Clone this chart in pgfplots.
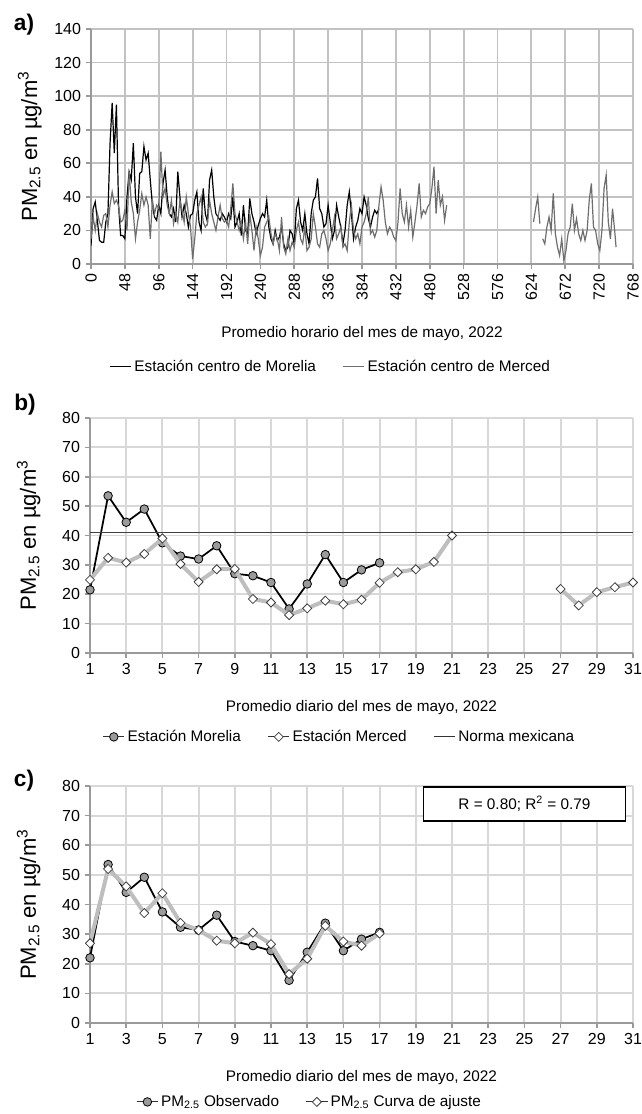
\documentclass[border=0pt]{standalone}
\usepackage{fontspec}
\setmainfont{Liberation Sans}
\usepackage{pgfplots}
\pgfplotsset{compat=1.18}
\definecolor{gridA}{HTML}{C2C2C2}
\definecolor{gridB}{HTML}{D8D8D8}
\definecolor{axisc}{HTML}{9A9A9A}
\definecolor{merced}{HTML}{6E6E6E}
\definecolor{circfill}{HTML}{9A9A9A}
\definecolor{lightln}{HTML}{BEBEBE}
\tikzset{plab/.style={font=\bfseries\fontsize{17}{19}\selectfont}}
\pgfplotsset{
  base/.style={
    scale only axis, axis lines=left,
    axis line style={-, draw=axisc, line width=1.3pt},
    grid=major, major grid style={draw=gridB, line width=1.4pt},
    tick style={draw=axisc, line width=1.2pt}, tick align=outside, major tick length=4pt,
    ticklabel style={font=\fontsize{12}{14}\selectfont},
    /pgf/number format/assume math mode=true,
    label style={font=\fontsize{11.5}{14}\selectfont},
    ylabel={PM\textsubscript{2.5} en µg/m\textsuperscript{3}},
    ylabel style={at={(axis description cs:-0.113,0.5)}, anchor=center, font=\fontsize{16.5}{18}\selectfont},
    legend style={draw=none, fill=none, font=\fontsize{11.5}{14}\selectfont,
      /tikz/every even column/.append style={column sep=18pt}},
    legend cell align=left,
    clip mode=individual,
  },
  daily/.style={
    xmin=1, xmax=31, xtick={1,3,...,31}, ymin=0, ymax=80, ytick={0,10,...,80},
    xlabel={Promedio diario del mes de mayo, 2022},
    legend columns=3,
    legend image code/.code={\draw[##1, line width=0.7pt, draw=black!80, mark repeat=2, mark phase=2] plot coordinates {(0pt,0pt) (8pt,0pt) (16pt,0pt)};},
  },
  circ/.style={black, line width=1.3pt, mark=*, mark size=3.2pt, mark options={fill=circfill, draw=black, line width=0.6pt}},
  diam/.style={lightln, line width=3pt, mark=square*, mark size=2.4pt, mark options={rotate=45, fill=white, draw=black!75, line width=0.6pt}},
}
\begin{document}
\begin{tikzpicture}
\path[use as bounding box] (0,0) rectangle (481.5pt,835.5pt);
% ---------------- panel a
\begin{axis}[base, at={(68.25pt,637.5pt)}, anchor=south west, width=406.5pt, height=176.25pt,
  xmin=0, xmax=768, xtick={0,48,...,768}, ymin=0, ymax=140, ytick={0,20,...,140},
  major grid style={draw=gridA, line width=1.4pt},
  xticklabel style={rotate=90, anchor=east},
  xlabel={Promedio horario del mes de mayo, 2022},
  xlabel style={at={(axis description cs:0.5,-0.295)}, anchor=center},
  legend style={at={(axis description cs:0.443,-0.438)}, anchor=center},
  legend columns=2,
  legend image code/.code={\draw[#1, line width=0.7pt] (0pt,0pt) -- (16pt,0pt);},
  unbounded coords=jump]
\addplot[black, line width=0.9pt] table[row sep=\\] {
h v\\
0 11\\ 3 33\\ 6 37\\ 9 26\\ 12 14\\ 15 13\\ 18 13\\ 21 25\\
24 30\\ 27 72\\ 30 96\\ 33 66\\ 36 95\\ 39 35\\ 42 17\\ 45 17\\
48 15\\ 51 40\\ 54 55\\ 57 50\\ 60 72\\ 63 40\\ 66 30\\ 69 54\\
72 55\\ 75 70\\ 78 62\\ 81 66\\ 84 50\\ 87 35\\ 90 28\\ 93 26\\
96 35\\ 99 30\\ 102 48\\ 105 56\\ 108 40\\ 111 30\\ 114 28\\ 117 33\\
120 25\\ 123 55\\ 126 40\\ 129 28\\ 132 35\\ 135 30\\ 138 22\\ 141 29\\
144 30\\ 147 38\\ 150 43\\ 153 25\\ 156 20\\ 159 45\\ 162 30\\ 165 25\\
168 50\\ 171 56\\ 174 40\\ 177 30\\ 180 28\\ 183 26\\ 186 30\\ 189 28\\
192 25\\ 195 30\\ 198 27\\ 201 40\\ 204 22\\ 207 25\\ 210 30\\ 213 17\\
216 35\\ 219 20\\ 222 18\\ 225 39\\ 228 30\\ 231 25\\ 234 18\\ 237 23\\
240 27\\ 243 30\\ 246 28\\ 249 38\\ 252 22\\ 255 15\\ 258 12\\ 261 20\\
264 14\\ 267 16\\ 270 22\\ 273 12\\ 276 8\\ 279 10\\ 282 20\\ 285 18\\
288 12\\ 291 33\\ 294 38\\ 297 25\\ 300 20\\ 303 30\\ 306 18\\ 309 12\\
312 30\\ 315 38\\ 318 40\\ 321 51\\ 324 33\\ 327 30\\ 330 22\\ 333 24\\
336 35\\ 339 25\\ 342 15\\ 345 20\\ 348 35\\ 351 28\\ 354 22\\ 357 12\\
360 20\\ 363 35\\ 366 43\\ 369 30\\ 372 15\\ 375 22\\ 378 26\\ 381 33\\
384 30\\ 387 40\\ 390 35\\ 393 27\\ 396 22\\ 399 28\\ 402 32\\ 405 30\\
408 33\\
};
\addlegendentry{Estación centro de Morelia}
\addplot[merced, line width=0.9pt] table[row sep=\\] {
h v\\
0 15\\ 3 28\\ 6 20\\ 9 30\\ 12 25\\ 15 22\\ 18 29\\ 21 30\\
24 22\\ 27 35\\ 30 43\\ 33 36\\ 36 38\\ 39 35\\ 42 25\\ 45 26\\
48 32\\ 51 20\\ 54 55\\ 57 37\\ 60 30\\ 63 15\\ 66 25\\ 69 32\\
72 42\\ 75 35\\ 78 40\\ 81 35\\ 84 15\\ 87 38\\ 90 30\\ 93 35\\
96 33\\ 99 67\\ 102 40\\ 105 45\\ 108 35\\ 111 30\\ 114 38\\ 117 24\\
120 30\\ 123 25\\ 126 38\\ 129 32\\ 132 25\\ 135 40\\ 138 30\\ 141 22\\
144 3\\ 147 15\\ 150 30\\ 153 35\\ 156 40\\ 159 25\\ 162 22\\ 165 24\\
168 38\\ 171 30\\ 174 25\\ 177 20\\ 180 28\\ 183 35\\ 186 27\\ 189 25\\
192 26\\ 195 22\\ 198 33\\ 201 48\\ 204 30\\ 207 25\\ 210 20\\ 213 25\\
216 15\\ 219 25\\ 222 12\\ 225 30\\ 228 20\\ 231 8\\ 234 22\\ 237 15\\
240 5\\ 243 10\\ 246 22\\ 249 25\\ 252 28\\ 255 18\\ 258 12\\ 261 18\\
264 15\\ 267 8\\ 270 28\\ 273 10\\ 276 6\\ 279 15\\ 282 8\\ 285 13\\
288 10\\ 291 20\\ 294 25\\ 297 15\\ 300 12\\ 303 22\\ 306 8\\ 309 10\\
312 15\\ 315 30\\ 318 22\\ 321 12\\ 324 10\\ 327 18\\ 330 20\\ 333 15\\
336 8\\ 339 12\\ 342 20\\ 345 28\\ 348 15\\ 351 18\\ 354 22\\ 357 10\\
360 12\\ 363 8\\ 366 25\\ 369 35\\ 372 20\\ 375 15\\ 378 18\\ 381 12\\
384 22\\ 387 25\\ 390 30\\ 393 40\\ 396 18\\ 399 20\\ 402 16\\ 405 20\\
408 35\\ 411 46\\ 414 38\\ 417 25\\ 420 18\\ 423 22\\ 426 20\\ 429 16\\
432 14\\ 435 25\\ 438 45\\ 441 30\\ 444 25\\ 447 35\\ 450 22\\ 453 32\\
456 16\\ 459 25\\ 462 35\\ 465 48\\ 468 28\\ 471 32\\ 474 30\\ 477 34\\
480 36\\ 483 45\\ 486 58\\ 489 30\\ 492 50\\ 495 35\\ 498 40\\ 501 26\\
504 35\\ 560 nan\\
627 25\\ 630 33\\ 633 40\\ 636 24\\ 638 nan\\ 640 15\\ 643 12\\ 646 22\\
649 28\\ 652 20\\ 655 42\\ 658 18\\ 661 10\\ 664 5\\ 667 15\\ 670 2\\
673 8\\ 676 18\\ 679 22\\ 682 36\\ 685 20\\ 688 27\\ 691 18\\ 694 14\\
697 20\\ 700 14\\ 703 20\\ 706 38\\ 709 48\\ 712 22\\ 715 20\\ 718 12\\
721 8\\ 724 20\\ 727 45\\ 730 53\\ 733 25\\ 736 15\\ 739 33\\ 742 20\\
744 10\\
};
\addlegendentry{Estación centro de Merced}
\end{axis}
\node[plab] at (18pt,816.75pt) {a)};
% ---------------- panel b
\begin{axis}[base, daily, at={(67.5pt,345.75pt)}, anchor=south west, width=407.25pt, height=176.25pt,
  xlabel style={at={(axis description cs:0.5,-0.23)}, anchor=center},
  legend style={at={(axis description cs:0.46,-0.357)}, anchor=center},
  unbounded coords=jump]
\addplot[circ] coordinates {(1,21.5) (2,53.5) (3,44.5) (4,49) (5,37.5) (6,33) (7,32) (8,36.5) (9,27) (10,26.3) (11,24) (12,15) (13,23.5) (14,33.5) (15,24) (16,28.3) (17,30.7)};
\addlegendentry{Estación Morelia}
\addplot[diam] coordinates {(1,24.9) (2,32.4) (3,30.8) (4,33.7) (5,39) (6,30.3) (7,24.2) (8,28.5) (9,28.6) (10,18.4) (11,17.2) (12,12.9) (13,15.2) (14,17.8) (15,16.6) (16,18.1) (17,23.9) (18,27.5) (19,28.5) (20,31) (21,40) (24,nan) (27,21.8) (28,16.2) (29,20.7) (30,22.4) (31,24)};
\addlegendentry{Estación Merced}
\addplot[black!75, line width=1pt] coordinates {(1,41) (31,41)};
\addlegendentry{Norma mexicana}
\end{axis}
\node[plab] at (18.75pt,531.75pt) {b)};
% ---------------- panel c
\begin{axis}[base, daily, at={(67.5pt,68.25pt)}, anchor=south west, width=407.25pt, height=177.75pt,
  xlabel style={at={(axis description cs:0.5,-0.232)}, anchor=center},
  legend style={at={(axis description cs:0.405,-0.333)}, anchor=center}, legend columns=2]
\addplot[circ] coordinates {(1,22) (2,53.5) (3,44.1) (4,49.2) (5,37.5) (6,32.3) (7,31.4) (8,36.4) (9,27.5) (10,26.1) (11,24.4) (12,14.4) (13,23.9) (14,33.7) (15,24.4) (16,28.3) (17,30.6)};
\addlegendentry{PM\textsubscript{2.5} Observado}
\addplot[diam] coordinates {(1,26.9) (2,52) (3,46.1) (4,37.1) (5,43.8) (6,33.8) (7,31.3) (8,27.8) (9,26.9) (10,30.5) (11,26.6) (12,16.5) (13,21.7) (14,32.8) (15,27.5) (16,26.1) (17,30.2)};
\addlegendentry{PM\textsubscript{2.5} Curva de ajuste}
\node[draw=black, line width=0.8pt, fill=white, minimum width=152pt, minimum height=25.5pt, font=\fontsize{11.5}{14}\selectfont] at (axis description cs:0.80,0.924) {R = 0.80; R\textsuperscript{2} = 0.79};
\end{axis}
\node[plab] at (18pt,249.75pt) {c)};
\end{tikzpicture}
\end{document}
